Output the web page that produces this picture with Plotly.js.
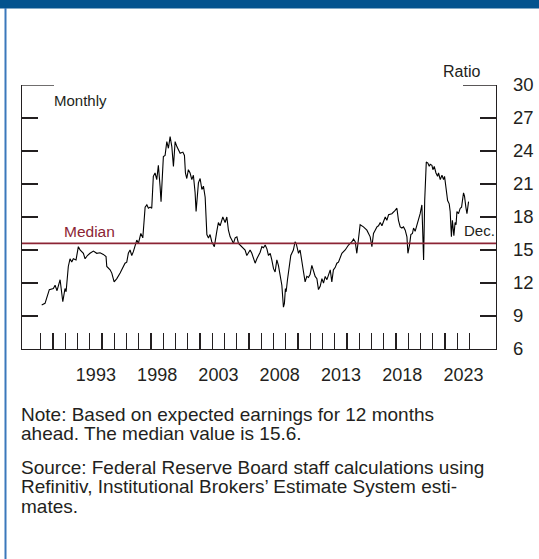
<!DOCTYPE html>
<html>
<head>
<meta charset="utf-8">
<script src="https://cdn.plot.ly/plotly-3.0.1.min.js"></script>
<style>
html,body{margin:0;padding:0;background:#fff;}
#chart{width:539px;height:559px;}
</style>
</head>
<body>
<div id="chart"></div>
<script>
// Forward P/E ratio of S&P 500, monthly
const years = [1989.08,1989.35,1989.70,1990.03,1990.17,1990.33,1990.58,1990.80,1990.98,1991.07,1991.25,1991.39,1991.53,1991.66,1991.88,1992.07,1992.21,1992.48,1992.62,1992.81,1993.02,1993.30,1993.57,1993.84,1994.11,1994.33,1994.39,1994.66,1994.80,1994.99,1995.21,1995.48,1995.88,1996.02,1996.15,1996.29,1996.43,1996.56,1996.84,1996.97,1997.17,1997.33,1997.44,1997.52,1997.66,1997.79,1997.93,1998.06,1998.19,1998.33,1998.47,1998.60,1998.74,1998.82,1999.01,1999.15,1999.29,1999.42,1999.56,1999.70,1999.83,1999.97,2000.11,2000.24,2000.38,2000.60,2000.73,2000.81,2000.92,2001.05,2001.19,2001.33,2001.46,2001.60,2001.68,2001.87,2002.01,2002.15,2002.28,2002.42,2002.50,2002.56,2002.69,2002.82,2002.96,2003.09,2003.17,2003.37,2003.50,2003.64,2003.86,2004.05,2004.19,2004.32,2004.46,2004.60,2004.73,2004.87,2005.01,2005.14,2005.28,2005.41,2005.68,2005.82,2005.95,2006.09,2006.23,2006.36,2006.50,2006.64,2006.77,2006.91,2007.05,2007.18,2007.32,2007.46,2007.59,2007.73,2007.86,2008.00,2008.13,2008.27,2008.40,2008.54,2008.68,2008.81,2008.89,2008.97,2009.03,2009.14,2009.30,2009.41,2009.62,2009.76,2009.85,2010.04,2010.17,2010.31,2010.45,2010.58,2010.72,2010.85,2010.99,2011.13,2011.26,2011.40,2011.54,2011.67,2011.81,2011.95,2012.08,2012.22,2012.36,2012.49,2012.63,2012.76,2012.89,2013.03,2013.17,2013.30,2013.44,2013.58,2013.85,2014.12,2014.40,2014.53,2014.67,2014.80,2015.07,2015.34,2015.62,2015.89,2016.03,2016.16,2016.30,2016.44,2016.57,2016.71,2016.85,2017.12,2017.25,2017.39,2017.66,2017.79,2017.93,2018.07,2018.20,2018.34,2018.48,2018.61,2018.75,2018.89,2018.97,2019.10,2019.21,2019.34,2019.43,2019.56,2019.70,2019.83,2019.97,2020.11,2020.25,2020.34,2020.41,2020.47,2020.60,2020.71,2020.79,2020.93,2021.01,2021.12,2021.26,2021.39,2021.47,2021.61,2021.75,2021.88,2021.96,2022.10,2022.21,2022.34,2022.42,2022.48,2022.52,2022.60,2022.72,2022.82,2022.90,2022.97,2023.10,2023.24,2023.35,2023.51,2023.59,2023.70,2023.79,2023.92];
const ratios = [10.0,10.15,11.4,11.5,11.8,11.3,12.3,10.3,11.5,11.2,13.5,14.2,13.9,14.2,14.1,15.3,15.0,14.7,14.2,14.5,14.7,14.9,14.7,14.75,14.6,14.4,13.5,13.2,12.9,12.1,12.4,12.9,13.8,13.9,14.7,15.0,14.5,14.85,15.9,15.6,16.5,16.1,17.7,18.9,19.1,18.8,18.9,18.8,21.7,22.0,21.4,22.7,20.8,19.4,23.5,23.6,24.85,24.25,25.3,24.4,22.6,24.85,24.4,24.1,23.8,23.9,23.6,22.0,21.5,22.3,22.0,21.4,21.8,20.2,18.5,21.1,21.5,20.5,20.8,19.8,17.7,16.4,16.1,16.4,15.75,15.45,15.3,16.7,17.5,17.2,18.0,17.5,18.0,16.8,16.2,15.9,15.6,16.1,16.2,15.6,15.45,15.3,15.0,14.5,14.8,15.0,14.7,14.2,13.8,14.2,14.5,14.8,15.3,15.2,15.45,15.1,14.5,14.7,14.1,13.3,13.0,14.1,13.6,12.6,11.8,9.8,10.15,11.5,11.2,12.3,13.5,14.5,15.0,15.75,15.6,14.7,15.0,13.8,13.0,12.1,12.6,12.5,12.8,13.6,13.0,12.6,12.4,11.4,11.7,12.4,12.0,12.6,12.3,12.8,13.2,12.1,13.2,13.4,13.8,13.9,14.4,14.7,15.0,15.45,15.75,16.0,15.75,14.7,17.3,17.1,16.8,16.2,15.3,16.5,16.8,17.1,17.2,17.5,17.2,18.0,17.7,18.2,18.3,18.5,18.6,18.8,17.7,17.1,17.0,17.1,16.8,16.2,14.7,15.45,16.4,16.5,17.0,16.7,17.3,17.6,18.3,19.1,14.1,19.5,21.7,23.0,22.9,22.6,22.8,22.7,22.3,22.6,22.0,21.7,22.0,21.4,21.8,21.4,21.7,20.45,19.5,19.2,18.5,17.1,16.2,17.7,16.3,17.5,17.3,18.5,18.3,18.8,18.9,20.2,19.9,18.9,18.3,19.4];
const medianValue = 15.6;

const yearTicks = [1989,1990,1991,1992,1993,1994,1995,1996,1997,1998,1999,2000,2001,2002,2003,2004,2005,2006,2007,2008,2009,2010,2011,2012,2013,2014,2015,2016,2017,2018,2019,2020,2021,2022,2023,2024];
const labelYears = ['1993','1998','2003','2008','2013','2018','2023'];
const yTicks = [6,9,12,15,18,21,24,27,30];

const noteLines = [
  'Note: Based on expected earnings for 12 months',
  'ahead. The median value is 15.6.',
  'Source: Federal Reserve Board staff calculations using',
  'Refinitiv, Institutional Brokers\u2019 Estimate System esti-',
  'mates.'
];

const W = 539, H = 559;
const M = {l:22, r:43, t:85, b:210};
const pw = W - M.l - M.r, ph = H - M.t - M.b;
const px = x => (x - M.l) / pw;       // page px -> paper x
const py = y => (H - M.b - y) / ph;   // page px -> paper y

const sans = 'Liberation Sans, Arial, sans-serif';
const ink = '#231f20';
const red = '#8c2434';
const xRange = [1987.47, 2026.16];

const data = [{
  x: years, y: ratios, type: 'scatter', mode: 'lines',
  line: {color: '#000', width: 1.1}, hoverinfo: 'skip', showlegend: false
}, {
  // same series on the label axis (invisible) so the year-label axis is drawn
  x: years, y: ratios, xaxis: 'x2', yaxis: 'y', type: 'scatter', mode: 'lines',
  line: {color: 'rgba(0,0,0,0)', width: 0}, opacity: 0, hoverinfo: 'skip', showlegend: false
}];

const noteY = [414, 433, 467.5, 486.5, 506];
const annotations = [
  {text:'Ratio', x:px(481), y:py(71), xanchor:'right', yanchor:'middle', font:{family:sans,size:16,color:ink}},
  {text:'Monthly', x:px(53), y:py(101), xanchor:'left', yanchor:'middle', font:{family:sans,size:15,color:ink}},
  {text:'Median', x:px(63), y:py(231), xanchor:'left', yanchor:'middle', font:{family:sans,size:15.5,color:red}},
  {text:'Dec.', x:px(496), y:py(230), xanchor:'right', yanchor:'middle', font:{family:sans,size:15,color:ink}}
].concat(noteLines.map((t,i)=>({
  text:t, x:px(20), y:py(noteY[i]), xanchor:'left', yanchor:'middle', font:{family:sans,size:19,color:ink}
}))).map(a=>Object.assign({xref:'paper', yref:'paper', showarrow:false, align:'left', borderpad:0}, a));

const shapes = [
  {type:'rect', xref:'paper', yref:'paper', x0:px(-5), x1:px(545), y0:py(8.5), y1:py(-5), fillcolor:'#04538e', line:{width:0}},
  {type:'line', xref:'paper', yref:'paper', x0:px(5.5), x1:px(5.5), y0:py(8), y1:py(565), line:{color:'#3b78bb', width:2}},
  {type:'line', xref:'paper', yref:'y', x0:0, x1:px(54), y0:30, y1:30, line:{color:ink, width:1.3}},
  {type:'line', xref:'paper', yref:'y', x0:px(463), x1:1, y0:30, y1:30, line:{color:ink, width:1.3}},
  {type:'line', xref:'paper', yref:'y', x0:0, x1:1, y0:medianValue, y1:medianValue, line:{color:red, width:1.6}}
];

const layout = {
  width: W, height: H, margin: M,
  paper_bgcolor:'#fff', plot_bgcolor:'#fff',
  showlegend:false,
  xaxis: {
    range: xRange, tickmode:'array', tickvals: yearTicks, ticks:'inside', ticklen:16, tickwidth:1.3, tickcolor:ink,
    showline:true, linecolor:ink, linewidth:1.3, showticklabels:false, showgrid:false, zeroline:false, fixedrange:true
  },
  xaxis2: {
    overlaying:'x', anchor:'y', side:'bottom', range: xRange, tickmode:'array',
    tickvals: labelYears.map(s=>+s+0.5), ticktext: labelYears, ticks:'', showline:false, showgrid:false, zeroline:false,
    tickfont:{family:sans, size:18, color:ink}, ticklabelstandoff:13, fixedrange:true
  },
  yaxis: {
    range:[6,30], side:'right', tickmode:'array', tickvals:yTicks, ticks:'inside', ticklen:16, tickwidth:1.3, tickcolor:ink,
    mirror:'ticks', showline:true, linecolor:ink, linewidth:1.3, showgrid:false, zeroline:false,
    tickfont:{family:sans, size:18.5, color:ink}, ticklabelstandoff:12, fixedrange:true
  },
  shapes: shapes,
  annotations: annotations
};

Plotly.newPlot('chart', data, layout, {displayModeBar:false, staticPlot:true});
</script>
</body>
</html>
